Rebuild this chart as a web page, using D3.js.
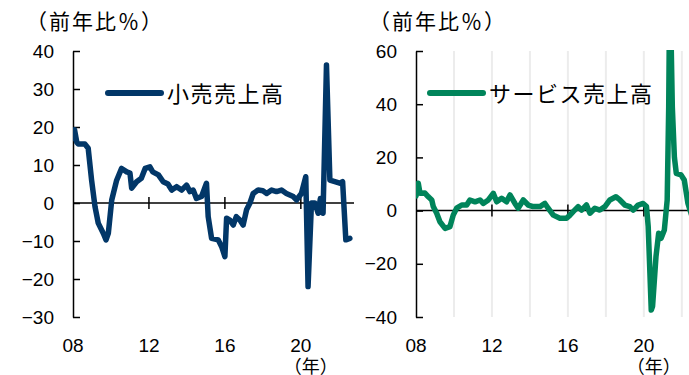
<!DOCTYPE html>
<html>
<head>
<meta charset="utf-8">
<script src="https://cdn.jsdelivr.net/npm/d3@7"></script>
<style>
  body { margin: 0; background: #fff; }
  svg { display: block; }
</style>
</head>
<body>
<script>
// Data (year as decimal, value in % y/y)
let retailT = [2008.00, 2008.08, 2008.20, 2008.28, 2008.63, 2008.80, 2008.98, 2009.16, 2009.33, 2009.60,
  2009.74, 2009.86, 2010.04, 2010.30, 2010.56, 2010.83, 2011.00, 2011.09, 2011.35, 2011.60,
  2011.80, 2012.05, 2012.20, 2012.50, 2012.75, 2013.00, 2013.20, 2013.46, 2013.72, 2013.98,
  2014.16, 2014.33, 2014.50, 2014.77, 2015.03, 2015.12, 2015.30, 2015.65, 2015.83, 2016.00,
  2016.09, 2016.26, 2016.44, 2016.60, 2016.79, 2016.96, 2017.14, 2017.32, 2017.49, 2017.75,
  2018.00, 2018.20, 2018.46, 2018.72, 2018.98, 2019.24, 2019.60, 2019.77, 2020.03, 2020.26,
  2020.38, 2020.56, 2020.74, 2020.91, 2021.03, 2021.17, 2021.35, 2021.53, 2021.79, 2022.05,
  2022.20, 2022.37, 2022.58];
let retailV = [17, 19.3, 16, 15.5, 15.5, 14.4, 6, -1, -5.3, -8,
  -9.7, -8, 0.8, 6, 9.1, 8.2, 7.9, 3.9, 5.6, 6.5,
  9.1, 9.5, 8.2, 7.4, 5.6, 5, 3.4, 4.3, 3.4, 4.7,
  3, 3.4, 1.2, 1.7, 5.2, -3.6, -9.3, -9.7, -11.5, -14.1,
  -4, -4.5, -5.8, -3.6, -4.5, -5.8, -1.8, 0, 2.5, 3.4,
  3.2, 2.5, 3.4, 3, 3.4, 2.5, 1.7, 0.8, 2.5, 6.9,
  -22, 0, 0, -2.7, 1.2, -2.7, 36.3, 6, 5.6, 5.2,
  5.6, -9.7, -9.3];

let serviceT = [2008.00, 2008.12, 2008.21, 2008.47, 2008.65, 2008.83, 2008.91, 2009.09, 2009.26, 2009.53,
  2009.79, 2009.96, 2010.14, 2010.41, 2010.67, 2010.84, 2011.11, 2011.37, 2011.54, 2011.81,
  2012.07, 2012.25, 2012.51, 2012.77, 2012.95, 2013.21, 2013.38, 2013.65, 2013.91, 2014.17,
  2014.53, 2014.79, 2014.96, 2015.23, 2015.58, 2015.93, 2016.11, 2016.28, 2016.54, 2016.72,
  2016.98, 2017.16, 2017.42, 2017.68, 2017.95, 2018.21, 2018.53, 2018.74, 2019.00, 2019.26,
  2019.44, 2019.70, 2019.96, 2020.14, 2020.23, 2020.32, 2020.39, 2020.46, 2020.64, 2020.78,
  2020.91, 2021.08, 2021.23, 2021.31, 2021.37, 2021.50, 2021.61, 2021.71, 2021.96, 2022.13,
  2022.32, 2022.53];
let serviceV = [5.5, 10.3, 6.5, 6.6, 5.2, 4, 1.5, -1, -4.2, -6.7,
  -6, -1.7, 0.9, 2.1, 2.1, 4, 3.3, 4, 2.7, 4,
  6.5, 3.3, 4.6, 3.3, 5.9, 2.7, 0.9, 4, 2.1, 1.5,
  1.5, 2.7, 0.9, -1.7, -2.9, -2.9, -1.7, -0.4, 1.5, 0.2,
  2.1, -1, 0.9, 0.2, 1.5, 4, 5.2, 4, 2.1, 1.5,
  0.2, 2.1, 2.7, 1.5, -6, -23.5, -37.4, -36, -17.3, -8.5,
  -10.4, -7.3, 4, 39, 90, 39, 20, 14, 13.4, 11.5,
  2.8, -2];

let xTicks = [2008, 2012, 2016, 2020];
let xTickLabels = ["08", "12", "16", "20"];
let leftYTicks = [40, 30, 20, 10, 0, -10, -20, -30];
let rightYTicks = [60, 40, 20, 0, -20, -40];
let gridYears = [2010, 2012, 2014, 2016, 2018, 2020, 2022];

let w = 689;
let h = 375;
let plotTop = 51;
let plotBottom = 317;
let jp = "'Noto Sans CJK JP', sans-serif";
let num = "'Liberation Sans', Arial, sans-serif";

let svg = d3.select("body").append("svg").attr("width", w).attr("height", h);

function drawPanel(opt) {
  let xScale = d3.scaleLinear().domain([2008, 2022.8]).range([opt.x0, opt.x0 + 281]);
  let yScale = d3.scaleLinear().domain(opt.yDomain).range([plotBottom, plotTop]);
  let g = svg.append("g");
  let y0 = yScale(0);

  // light vertical gridlines
  if (opt.grid) {
    g.selectAll(".grid")
      .data(gridYears)
      .enter()
      .append("line")
      .attr("x1", (d) => xScale(d))
      .attr("x2", (d) => xScale(d))
      .attr("y1", plotTop)
      .attr("y2", plotBottom)
      .attr("stroke", "#ececec")
      .attr("stroke-width", 2);
  }

  // title
  g.append("text")
    .attr("x", opt.x0 - 47)
    .attr("y", 29)
    .attr("font-family", jp)
    .attr("font-size", "21px")
    .attr("letter-spacing", "2px")
    .attr("fill", "#000")
    .text("（前年比％）");

  // y axis
  let yAxis = d3.axisLeft(yScale)
    .tickValues(opt.yTicks)
    .tickSizeInner(-7)
    .tickSizeOuter(0)
    .tickPadding(19)
    .tickFormat(d3.format("d"));
  let ya = g.append("g")
    .attr("transform", "translate(" + opt.x0 + ",0)")
    .call(yAxis);
  ya.selectAll("path, line").attr("stroke", "#000").attr("stroke-width", 1.5);
  ya.selectAll("text")
    .attr("font-family", num)
    .attr("font-size", "19px")
    .attr("fill", "#000");

  // zero line with crossing ticks
  g.append("line")
    .attr("x1", opt.x0)
    .attr("x2", opt.zeroEnd)
    .attr("y1", y0)
    .attr("y2", y0)
    .attr("stroke", "#000")
    .attr("stroke-width", 1.5);
  g.selectAll(".xt")
    .data(xTicks.slice(1))
    .enter()
    .append("line")
    .attr("x1", (d) => xScale(d))
    .attr("x2", (d) => xScale(d))
    .attr("y1", y0 - 6)
    .attr("y2", y0 + 6)
    .attr("stroke", "#000")
    .attr("stroke-width", 1.5);

  // x labels
  g.selectAll(".xl")
    .data(xTicks)
    .enter()
    .append("text")
    .attr("x", (d) => xScale(d))
    .attr("y", 352)
    .attr("text-anchor", "middle")
    .attr("font-family", num)
    .attr("font-size", "19px")
    .attr("fill", "#000")
    .text((d, i) => xTickLabels[i]);
  g.append("text")
    .attr("x", xScale(2020) + 10)
    .attr("y", 373)
    .attr("text-anchor", "middle")
    .attr("font-family", jp)
    .attr("font-size", "18px")
    .attr("fill", "#000")
    .text("（年）");

  // series line, clipped to the plot
  let clipId = "clip" + opt.x0;
  svg.append("clipPath")
    .attr("id", clipId)
    .append("rect")
    .attr("x", opt.x0)
    .attr("y", plotTop - 1)
    .attr("width", 300)
    .attr("height", plotBottom - plotTop + 4);
  let pts = opt.t.map((d, i) => [d, opt.v[i]]);
  let line = d3.line()
    .x((d) => xScale(d[0]))
    .y((d) => yScale(d[1]));
  g.append("path")
    .datum(pts)
    .attr("clip-path", "url(#" + clipId + ")")
    .attr("d", line)
    .attr("fill", "none")
    .attr("stroke", opt.color)
    .attr("stroke-width", 5.5)
    .attr("stroke-linejoin", "round")
    .attr("stroke-linecap", "round");

  // legend
  g.append("line")
    .attr("x1", opt.legX)
    .attr("x2", opt.legX + 53)
    .attr("y1", 93)
    .attr("y2", 93)
    .attr("stroke", opt.color)
    .attr("stroke-width", 6)
    .attr("stroke-linecap", "round");
  g.append("text")
    .attr("x", opt.legX + 59)
    .attr("y", 102)
    .attr("font-family", jp)
    .attr("font-size", "22px")
    .attr("letter-spacing", "1.5px")
    .attr("fill", "#000")
    .text(opt.name);
}

drawPanel({
  x0: 73, yDomain: [-30, 40], yTicks: leftYTicks, zeroEnd: 354,
  t: retailT, v: retailV, color: "#023768", name: "小売売上高", legX: 108, grid: false
});
drawPanel({
  x0: 416, yDomain: [-40, 60], yTicks: rightYTicks, zeroEnd: 689,
  t: serviceT, v: serviceV, color: "#00845a", name: "サービス売上高", legX: 430, grid: true
});
</script>
</body>
</html>
